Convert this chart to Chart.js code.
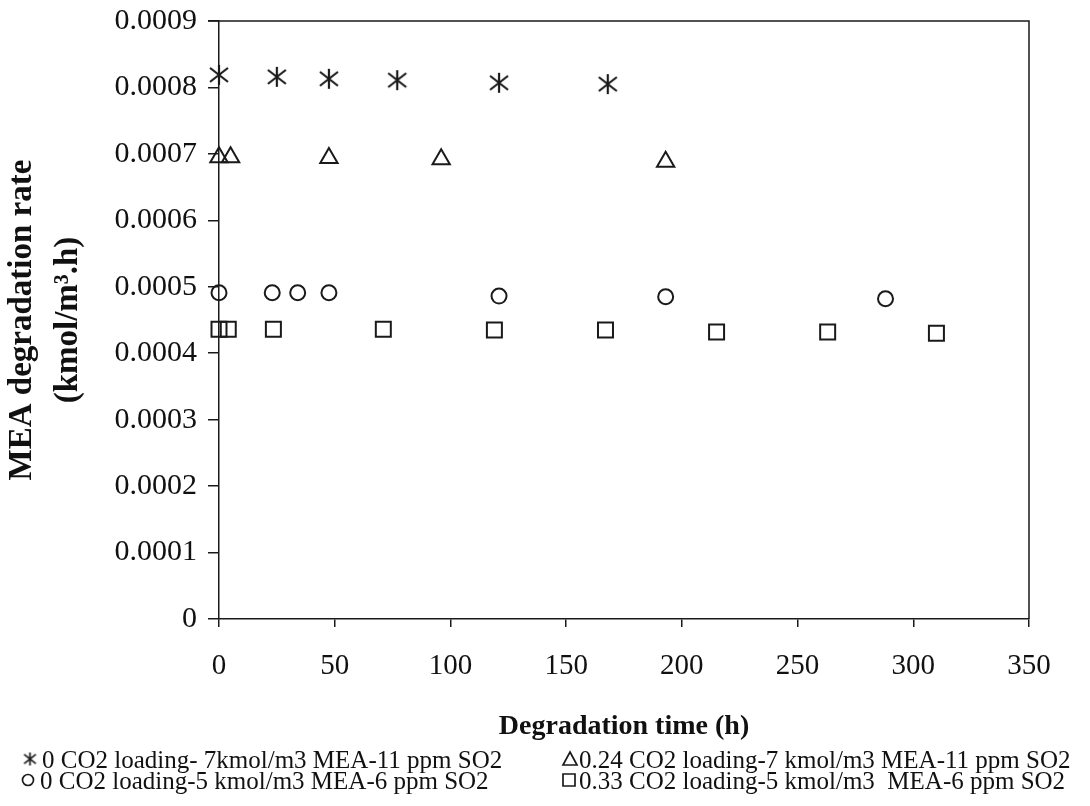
<!DOCTYPE html>
<html>
<head>
<meta charset="utf-8">
<script src="https://cdn.jsdelivr.net/npm/chart.js@4/dist/chart.umd.min.js"></script>
<style>
  body { margin: 0; background: #ffffff; }
  canvas { display: block; }
</style>
</head>
<body>
<canvas id="degradation-chart" width="1090" height="806"></canvas>
<script>
// Degradation time (h) and MEA degradation rate (kmol/m3.h)
var labels = [
    '0 CO2 loading- 7kmol/m3 MEA-11 ppm SO2',
    '0.24 CO2 loading-7 kmol/m3 MEA-11 ppm SO2',
    '0 CO2 loading-5 kmol/m3 MEA-6 ppm SO2',
    '0.33 CO2 loading-5 kmol/m3  MEA-6 ppm SO2'
];
var timeA = [0, 25, 47.5, 77, 121, 168];
var rateA = [0.000819, 0.000816, 0.000813, 0.000811, 0.000807, 0.000805];
var timeB = [0, 5, 47.5, 96, 193];
var rateB = [0.000695, 0.000695, 0.000694, 0.000692, 0.000688];
var timeC = [0, 23, 34, 47.5, 121, 193, 288];
var rateC = [0.000491, 0.000491, 0.000491, 0.000491, 0.000486, 0.000485, 0.000482];
var timeD = [0, 4, 23.5, 71, 119, 167, 215, 263, 310];
var rateD = [0.000436, 0.000436, 0.000436, 0.000436, 0.000435, 0.000435, 0.000432, 0.000432, 0.000430];
var xTicks = [0, 50, 100, 150, 200, 250, 300, 350];
var yTicks = [0, 0.0001, 0.0002, 0.0003, 0.0004, 0.0005, 0.0006, 0.0007, 0.0008, 0.0009];

var ink = '#1a1a1a';
var serif = "'Liberation Serif', 'Times New Roman', serif";

function pts(xs, ys) {
    return xs.map(function (x, i) { return { x: x, y: ys[i] }; });
}

// six-armed asterisk marker (vertical bar + X)
function makeAsterisk(size, lw) {
    var c = document.createElement('canvas');
    c.width = size;
    c.height = size;
    var g = c.getContext('2d');
    var m = size / 2, r = size / 2 - 1;
    g.strokeStyle = ink;
    g.lineWidth = lw;
    g.beginPath();
    g.moveTo(m, m - r); g.lineTo(m, m + r);
    g.moveTo(m - r * 0.9, m - r * 0.7); g.lineTo(m + r * 0.9, m + r * 0.7);
    g.moveTo(m + r * 0.9, m - r * 0.7); g.lineTo(m - r * 0.9, m + r * 0.7);
    g.stroke();
    return c;
}

var frame = {
    id: 'frame',
    afterDatasetsDraw: function (chart) {
        var a = chart.chartArea, ctx = chart.ctx;
        ctx.save();
        ctx.strokeStyle = ink;
        ctx.lineWidth = 1.5;
        ctx.beginPath();
        ctx.moveTo(a.left - 11, a.top);
        ctx.lineTo(a.right, a.top);
        ctx.lineTo(a.right, a.bottom);
        ctx.stroke();
        ctx.restore();
    }
};

var bottomLegend = {
    id: 'bottomLegend',
    afterDraw: function (chart) {
        var ctx = chart.ctx;
        var star = makeAsterisk(15, 1.7);
        var items = [
            { x: 30, y: 759, tx: 42, ty: 768 },
            { x: 570, y: 759, tx: 579, ty: 768 },
            { x: 28, y: 780, tx: 40, ty: 789 },
            { x: 569, y: 780, tx: 579, ty: 789 }
        ];
        ctx.save();
        ctx.strokeStyle = ink;
        ctx.lineWidth = 1.7;
        items.forEach(function (it, i) {
            ctx.beginPath();
            if (i === 0) {
                ctx.drawImage(star, it.x - 7.5, it.y - 7.5);
            } else if (i === 1) {
                ctx.moveTo(it.x, it.y - 7);
                ctx.lineTo(it.x + 7, it.y + 6);
                ctx.lineTo(it.x - 7, it.y + 6);
                ctx.closePath();
                ctx.stroke();
            } else if (i === 2) {
                ctx.arc(it.x, it.y, 5.5, 0, Math.PI * 2);
                ctx.stroke();
            } else {
                ctx.rect(it.x - 6, it.y - 6, 12, 12);
                ctx.stroke();
            }
            ctx.fillStyle = '#111';
            ctx.font = '25px ' + serif;
            ctx.textBaseline = 'alphabetic';
            ctx.textAlign = 'left';
            ctx.fillText(chart.data.datasets[i].label, it.tx, it.ty);
        });
        ctx.restore();
    }
};

document.addEventListener('DOMContentLoaded', function () {
    var ctx = document.getElementById('degradation-chart').getContext('2d');
    var marker = { backgroundColor: 'rgba(255,255,255,0)', borderColor: ink, pointBorderWidth: 2, showLine: false, clip: false };
    var degradationChart = new Chart(ctx, {
        type: 'scatter',
        data: {
            datasets: [
                Object.assign({ label: labels[0], data: pts(timeA, rateA), pointStyle: makeAsterisk(22, 2.2), pointRadius: 10 }, marker),
                Object.assign({ label: labels[1], data: pts(timeB, rateB), pointStyle: 'triangle', pointRadius: 10 }, marker),
                Object.assign({ label: labels[2], data: pts(timeC, rateC), pointStyle: 'circle', pointRadius: 7.5 }, marker),
                Object.assign({ label: labels[3], data: pts(timeD, rateD), pointStyle: 'rect', pointRadius: 10.6 }, marker)
            ]
        },
        options: {
            responsive: false,
            animation: false,
            layout: { padding: { top: 21, right: 61, left: 0, bottom: 0 } },
            plugins: {
                legend: { display: false },
                tooltip: { enabled: false }
            },
            scales: {
                x: {
                    type: 'linear',
                    min: xTicks[0],
                    max: xTicks[xTicks.length - 1],
                    afterBuildTicks: function (axis) {
                        axis.ticks = xTicks.map(function (v) { return { value: v }; });
                    },
                    afterFit: function (axis) {
                        axis.height = 187;
                        axis.paddingLeft = 0;
                        axis.paddingRight = 0;
                    },
                    grid: { drawOnChartArea: false, tickLength: 8, color: ink, lineWidth: 1.5 },
                    border: { color: ink, width: 1.5 },
                    ticks: {
                        color: '#111',
                        padding: 22,
                        font: { family: serif, size: 29 }
                    },
                    title: {
                        display: true,
                        text: 'Degradation time (h)',
                        color: '#111',
                        font: { family: serif, size: 28, weight: 'bold' },
                        padding: { top: 0, bottom: 62 }
                    }
                },
                y: {
                    min: yTicks[0],
                    max: yTicks[yTicks.length - 1],
                    afterBuildTicks: function (axis) {
                        axis.ticks = yTicks.map(function (v) { return { value: v }; });
                    },
                    afterFit: function (axis) {
                        axis.width = 219;
                        axis.paddingTop = 0;
                        axis.paddingBottom = 0;
                    },
                    grid: { drawOnChartArea: false, tickLength: 11, color: ink, lineWidth: 1.5 },
                    border: { color: ink, width: 1.5 },
                    ticks: {
                        color: '#111',
                        padding: 11,
                        font: { family: serif, size: 30 },
                        callback: function (v) { return v === 0 ? '0' : v.toFixed(4); }
                    },
                    title: {
                        display: true,
                        text: ['MEA degradation rate', '(kmol/m\u00b3.h)'],
                        color: '#111',
                        font: { family: serif, size: 33, weight: 'bold', lineHeight: 1.38 },
                        padding: { top: 0, bottom: 0 }
                    }
                }
            }
        },
        plugins: [frame, bottomLegend]
    });
});
</script>
</body>
</html>
